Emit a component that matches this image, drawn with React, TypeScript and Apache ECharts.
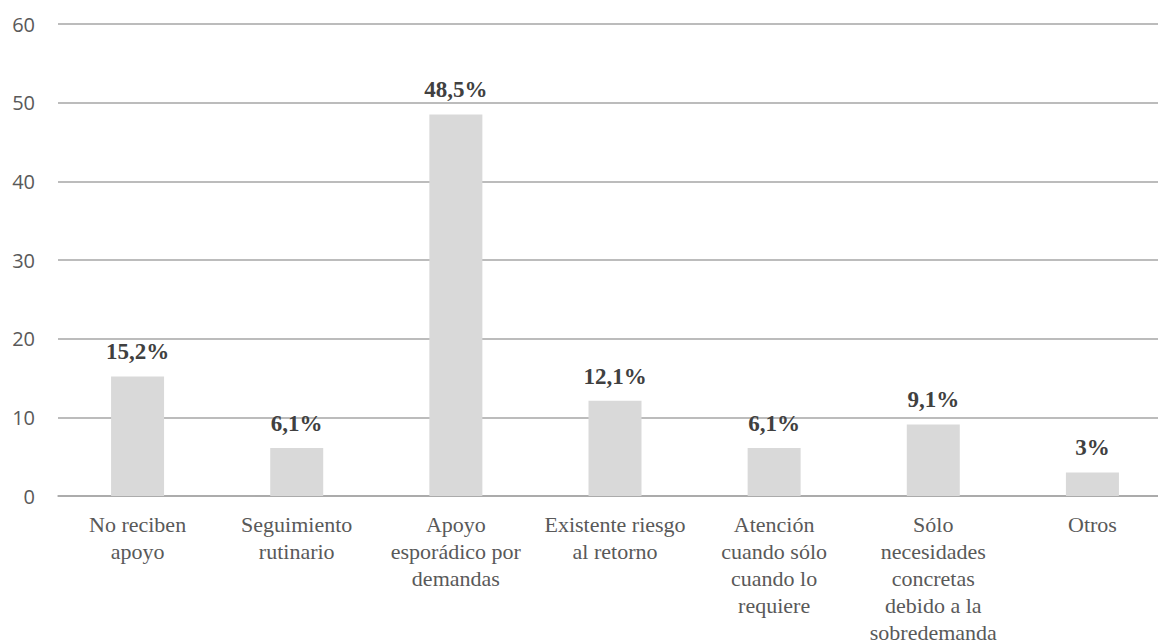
import React, { useEffect, useRef } from "react";
import * as echarts from "echarts";

const categories = [
  "No reciben\napoyo",
  "Seguimiento\nrutinario",
  "Apoyo\nesporádico por\ndemandas",
  "Existente riesgo\nal retorno",
  "Atención\ncuando sólo\ncuando lo\nrequiere",
  "Sólo\nnecesidades\nconcretas\ndebido a la\nsobredemanda",
  "Otros",
];
const values = [15.2, 6.1, 48.5, 12.1, 6.1, 9.1, 3];
const valueLabels = ["15,2%", "6,1%", "48,5%", "12,1%", "6,1%", "9,1%", "3%"];
const yMin = 0;
const yMax = 60;
const yInterval = 10;

const SERIF = "Liberation Serif, Times New Roman, Tinos, DejaVu Serif, serif";

export default function App() {
  const ref = useRef<HTMLDivElement>(null);
  useEffect(() => {
    if (!ref.current) return;
    const chart = echarts.init(ref.current, null, { renderer: "svg" });
    chart.setOption({
      animation: false,
      backgroundColor: "#ffffff",
      textStyle: { fontFamily: SERIF },
      grid: {
        left: 58,
        top: 24,
        right: -14,
        height: 472,
        containLabel: false,
        outerBoundsMode: "none",
      },
      xAxis: {
        type: "category",
        data: categories,
        axisLine: { show: true, lineStyle: { color: "#a6a6a6", width: 1.5 } },
        axisTick: { show: false },
        axisLabel: {
          interval: 0,
          margin: 15,
          color: "#595959",
          fontFamily: SERIF,
          fontWeight: "normal",
          fontStyle: "normal",
          fontSize: 22,
          lineHeight: 27,
        },
      },
      yAxis: {
        type: "value",
        min: yMin,
        max: yMax,
        interval: yInterval,
        axisLine: { show: false },
        axisTick: { show: false },
        splitLine: { lineStyle: { color: "#a6a6a6", width: 1.5 } },
        axisLabel: {
          margin: 23,
          color: "#595959",
          fontFamily: "Open Sans",
          fontSize: 20,
        },
      },
      series: [
        {
          type: "bar",
          data: values,
          barWidth: 53,
          itemStyle: { color: "#d9d9d9" },
          label: {
            show: true,
            position: "top",
            distance: 13,
            color: "#404040",
            fontFamily: SERIF,
            fontWeight: "bold",
            fontSize: 23,
            formatter: (p: any) => valueLabels[p.dataIndex],
          },
        },
      ],
    });
    return () => chart.dispose();
  }, []);
  return (
    <div
      ref={ref}
      style={{ position: "absolute", left: 0, top: 0, width: 1158, height: 644 }}
    />
  );
}
